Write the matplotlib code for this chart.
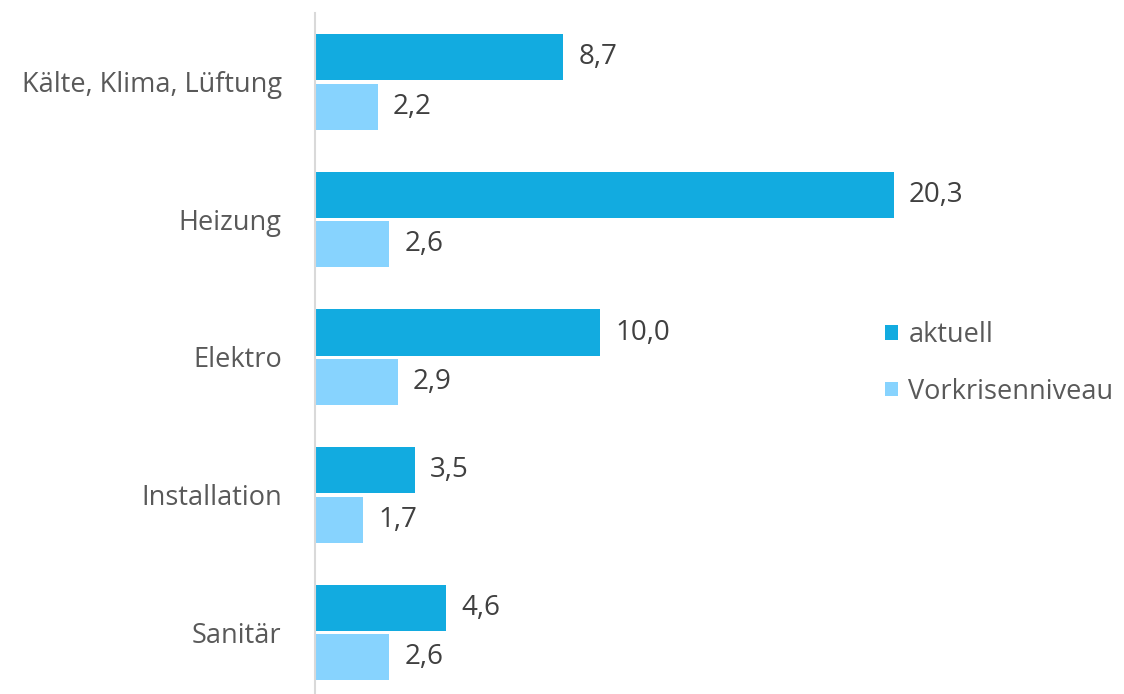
import numpy as np
import matplotlib.pyplot as plt

plt.rcParams['font.family'] = ['Open Sans', 'DejaVu Sans']

categories = ["Kälte, Klima, Lüftung", "Heizung", "Elektro", "Installation", "Sanitär"]
aktuell = [8.7, 20.3, 10.0, 3.5, 4.6]
vorkrise = [2.2, 2.6, 2.9, 1.7, 2.6]
series_names = ["aktuell", "Vorkrisenniveau"]

c_akt = "#12ABE0"
c_vor = "#87D3FE"

fig = plt.figure(figsize=(11.24, 6.94), dpi=100)
ax = fig.add_axes([315 / 1124, -7 / 694, 1 - 315 / 1124, 688 / 694])

y = np.arange(len(categories))
h = 0.335
b1 = ax.barh(y - 0.178, aktuell, height=h, color=c_akt, label=series_names[0])
b2 = ax.barh(y + 0.182, vorkrise, height=h, color=c_vor, label=series_names[1])

for bars, vals in ((b1, aktuell), (b2, vorkrise)):
    for bar, v in zip(bars, vals):
        ax.annotate(f"{v:.1f}".replace(".", ","),
                    (bar.get_width(), bar.get_y() + bar.get_height() / 2),
                    xytext=(11, 0), textcoords="offset points",
                    ha="left", va="center", fontsize=20, color="#404040")

ax.set_xlim(0, (1124 - 315) / 28.5)
ax.set_ylim(len(categories) - 0.5, -0.5)
ax.set_yticks(y)
ax.set_yticklabels(categories, fontsize=19.5, color="#595959")
ax.tick_params(axis="y", length=0, pad=24)
ax.set_xticks([])
for s in ["top", "right", "bottom"]:
    ax.spines[s].set_visible(False)
ax.spines["left"].set_color("#D9D9D9")
ax.spines["left"].set_linewidth(1.5)

leg = fig.legend(handles=[b1, b2], labels=series_names, loc="upper left",
                 bbox_to_anchor=(861 / 1124, 1 - 297 / 694), frameon=False,
                 fontsize=19.5, handlelength=0.45, handleheight=0.45,
                 handletextpad=0.4, labelspacing=1.05, labelcolor="#595959")

fig.savefig("out.png", dpi=100)
